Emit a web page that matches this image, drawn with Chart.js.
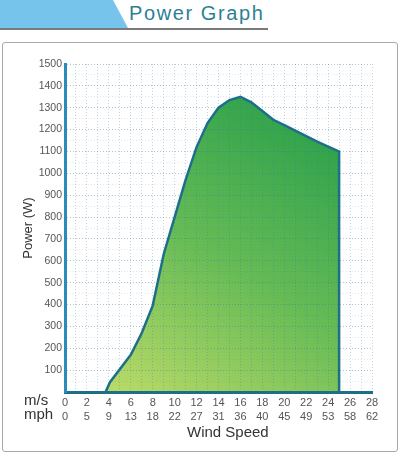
<!DOCTYPE html>
<html>
<head>
<meta charset="utf-8">
<script src="https://cdn.jsdelivr.net/npm/chart.js@4.4.1/dist/chart.umd.min.js"></script>
<style>
  html, body { margin:0; padding:0; background:#fff; }
  #wrap { position:relative; width:400px; height:455px; overflow:hidden; font-family:"Liberation Sans", Arial, sans-serif; }
  #banner { position:absolute; left:0; top:0; width:130px; height:28px; background:#76c4ec;
            clip-path: polygon(0 0, 113px 0, 128px 28px, 0 28px); }
  #uline { position:absolute; left:0; top:28px; width:268px; height:2px; background:#7a7a7a; }
  #title { position:absolute; left:129px; top:2px; font-size:20px; letter-spacing:1.6px; color:#2e7f93; }
  #frame { position:absolute; left:2px; top:42px; width:394px; height:408px; border:1px solid #a9a9a9; border-radius:3px; }
  canvas { position:absolute; left:0; top:0; }
  .lbl { position:absolute; color:#333; white-space:nowrap; }
</style>
</head>
<body>
<div id="wrap">
  <div id="banner"></div>
  <div id="uline"></div>
  <div id="title">Power Graph</div>
  <div id="frame"></div>
  <canvas id="c" width="400" height="455"></canvas>
  <div class="lbl" style="left:24px;top:391px;font-size:15px;">m/s</div>
  <div class="lbl" style="left:24px;top:405px;font-size:15px;">mph</div>
  <div class="lbl" style="left:187px;top:423px;font-size:15px;">Wind Speed</div>
  <div class="lbl" style="left:-4px;top:220px;height:16px;line-height:16px;font-size:13px;transform:rotate(-90deg);transform-origin:center;width:64px;text-align:center;">Power (W)</div>
</div>
<script>
// Data
const windSpeed = [3.7, 4.1, 6, 7, 8, 9, 10, 11, 12, 13, 14, 15, 16, 17, 18, 19, 20, 21, 22, 23, 24, 25, 25];
const power     = [0,   45, 170, 270, 395, 630, 800, 970, 1120, 1230, 1300, 1335, 1350, 1325, 1285, 1245, 1220, 1195, 1170, 1145, 1122, 1100, 0];
const msTicks  = [0, 2, 4, 6, 8, 10, 12, 14, 16, 18, 20, 22, 24, 26, 28];
const mphTicks = [0, 5, 9, 13, 18, 22, 27, 31, 36, 40, 45, 49, 53, 58, 62];
const yTicks = [100, 200, 300, 400, 500, 600, 700, 800, 900, 1000, 1100, 1200, 1300, 1400, 1500];

const points = windSpeed.map((x, i) => ({ x: x, y: power[i] }));

function fillGradient(ctx) {
  const ca = ctx.chart.chartArea;
  if (!ca) return '#6cbf55';
  const g = ctx.chart.ctx.createLinearGradient(ca.left + 40, ca.bottom, ca.right - 60, ca.top);
  g.addColorStop(0, '#bcdb68');
  g.addColorStop(0.45, '#66bb55');
  g.addColorStop(1, '#1e9a48');
  return g;
}

new Chart(document.getElementById('c'), {
  type: 'line',
  data: {
    datasets: [{
      data: points,
      borderColor: '#1d6f89',
      borderWidth: 2.5,
      pointRadius: 0,
      tension: 0,
      fill: 'origin',
      backgroundColor: fillGradient
    }]
  },
  options: {
    responsive: false,
    animation: false,
    layout: { padding: { left: 0, right: 28, top: 64, bottom: 0 } },
    plugins: { legend: { display: false }, tooltip: { enabled: false } },
    scales: {
      x: {
        type: 'linear', min: 0, max: 28,
        afterFit: s => { s.height = 63; },
        afterBuildTicks: s => { s.ticks = []; for (let v = 0; v <= 28; v++) s.ticks.push({ value: v }); },
        ticks: {
          autoSkip: false, maxRotation: 0, padding: 4,
          color: '#555', font: { size: 11, family: '"Liberation Sans", Arial', lineHeight: 1.25 },
          callback: v => { const i = msTicks.indexOf(v); return i >= 0 ? [String(msTicks[i]), String(mphTicks[i])] : ''; }
        },
        grid: {
          z: 1, drawTicks: false,
          color: c => (c.tick && c.tick.value === 0) ? 'rgba(0,0,0,0)' : 'rgba(40,120,170,0.3)',
          lineWidth: 1
        },
        border: { display: true, color: '#1d6f89', width: 3, z: 2, dash: [1, 2] }
      },
      y: {
        min: 0, max: 1500,
        afterFit: s => { s.width = 65; },
        afterBuildTicks: s => { s.ticks = []; for (let v = 0; v <= 1500; v += 50) s.ticks.push({ value: v }); },
        ticks: {
          autoSkip: false, padding: 3,
          color: '#555', font: { size: 10.5, family: '"Liberation Sans", Arial' },
          callback: v => yTicks.indexOf(v) >= 0 ? String(v) : ''
        },
        grid: {
          z: 1, drawTicks: false,
          color: c => {
            const v = c.tick ? c.tick.value : 0;
            if (v === 0) return 'rgba(0,0,0,0)';
            return v % 100 === 0 ? 'rgba(40,120,170,0.42)' : 'rgba(40,120,170,0.16)';
          },
          lineWidth: 1
        },
        border: { display: true, color: '#2b8cbc', width: 3, z: 2, dash: [1, 2] }
      }
    }
  }
});
</script>
</body>
</html>
